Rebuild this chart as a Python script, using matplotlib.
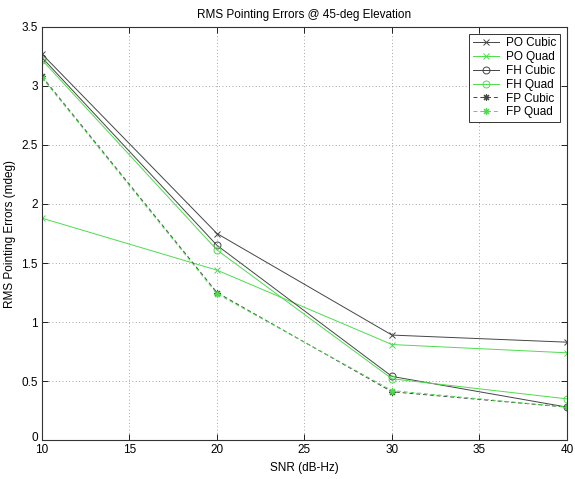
import matplotlib
matplotlib.use('Agg')
import matplotlib.pyplot as plt
import matplotlib.transforms as mtrans

plt.rcParams['font.family'] = ['Liberation Sans', 'DejaVu Sans']
plt.rcParams['font.size'] = 8.5

snr = [10, 20, 30, 40]
po_cubic = [3.27, 1.75, 0.89, 0.83]
po_quad = [1.88, 1.44, 0.81, 0.74]
fh_cubic = [3.24, 1.65, 0.54, 0.28]
fh_quad = [3.22, 1.61, 0.52, 0.35]
fp_cubic = [3.08, 1.25, 0.41, 0.28]
fp_quad = [3.07, 1.24, 0.42, 0.28]

dark = '#454545'
green = '#4cdd4c'
star = (8, 2, 0)  # asterisk like matlab '*'

fig = plt.figure(figsize=(5.75, 4.79), dpi=100)
ax = fig.add_axes([0.073, 0.081, 0.913, 0.863])

ax.plot(snr, po_cubic, '-x', color=dark, lw=0.7, ms=4, mew=0.7, label='PO Cubic')
ax.plot(snr, po_quad, '-x', color=green, lw=0.7, ms=4, mew=0.7, label='PO Quad')
ax.plot(snr, fh_cubic, '-o', color=dark, lw=0.7, ms=5, mew=0.7, mfc='none', label='FH Cubic')
ax.plot(snr, fh_quad, '-o', color=green, lw=0.7, ms=5, mew=0.7, mfc='none', label='FH Quad')
ax.plot(snr, fp_cubic, '--', marker=star, color=dark, lw=0.7, ms=5, mew=0.8, dashes=(4, 3), label='FP Cubic')
ax.plot(snr, fp_quad, '--', marker=star, color=green, lw=0.7, ms=5, mew=0.8, dashes=(4, 3), label='FP Quad')

ax.set_xlim(10, 40)
ax.set_ylim(0, 3.5)
ax.set_xticks([10, 15, 20, 25, 30, 35, 40])
ax.set_yticks([0, 0.5, 1, 1.5, 2, 2.5, 3, 3.5])
ax.set_yticklabels(['0', '0.5', '1', '1.5', '2', '2.5', '3', '3.5'])
ax.grid(True, linestyle=(0, (1, 3)), color='#888888', lw=0.6)
ax.tick_params(direction='in', length=4, width=0.6, top=True, right=True, pad=3)
for s in ax.spines.values():
    s.set_linewidth(0.8)
    s.set_color('#333333')

# nudge the "0" label up so it clears the "10" below it
zero = ax.get_yticklabels()[0]
zero.set_transform(zero.get_transform() + mtrans.ScaledTranslation(0, 3 / 72, fig.dpi_scale_trans))

ax.set_xlabel('SNR (dB-Hz)')
ax.set_ylabel('RMS Pointing Errors (mdeg)')
ax.set_title('RMS Pointing Errors @ 45-deg Elevation', fontsize=8.5)

leg = ax.legend(loc='upper right', fancybox=False, framealpha=1, edgecolor='#333333',
                handlelength=2.2, borderpad=0.3, labelspacing=0.15, handletextpad=0.6,
                borderaxespad=0.6, fontsize=8.5)
leg.get_frame().set_linewidth(0.7)

fig.savefig('out.png', dpi=100)
